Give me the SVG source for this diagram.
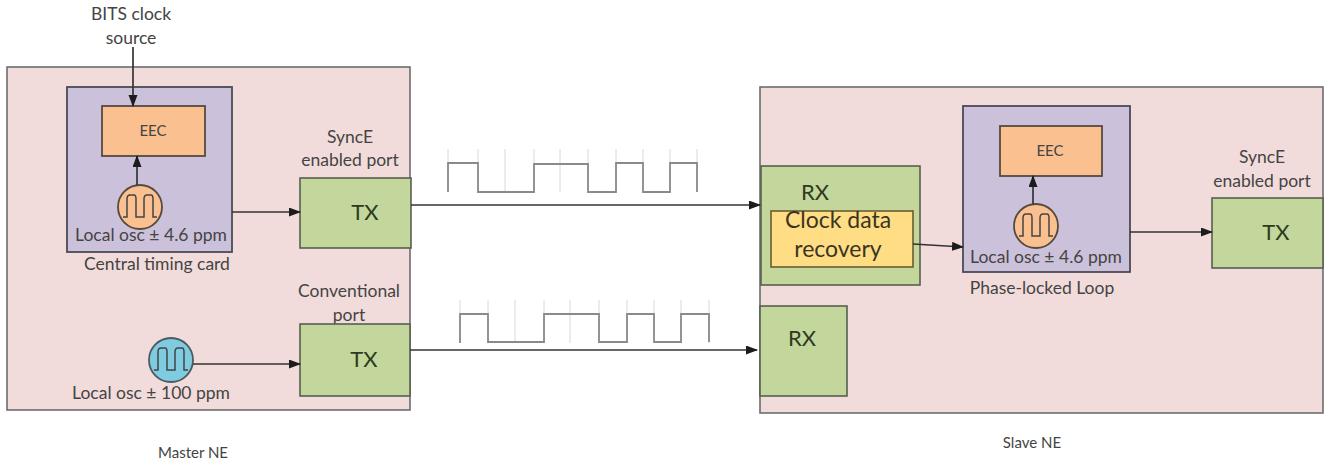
<svg xmlns="http://www.w3.org/2000/svg" width="1326" height="464" viewBox="0 0 1326 464">
<style>
text{font-family:Lato,"Open Sans","Liberation Sans",sans-serif;fill:#444;text-anchor:middle}
.s{font-size:17.5px}
.xs{font-size:15px}
.l{font-size:22px;fill:#2f3a22}
.cd{font-size:23px;fill:#3a3520}
.pink{fill:#f2dcdb;stroke:#6d6d6d;stroke-width:1.6}
.purple{fill:#ccc1da;stroke:#4a4a55;stroke-width:1.8}
.orange{fill:#fac090;stroke:#554a3f;stroke-width:1.8}
.green{fill:#c3d69b;stroke:#566050;stroke-width:1.6}
.yellow{fill:#ffdd85;stroke:#6b5c30;stroke-width:1.6}
.c{stroke:#333;stroke-width:1.7;fill:none;marker-end:url(#a)}
.wave{fill:none;stroke:#8a8a8a;stroke-width:1.8}
.tick{fill:none;stroke:#d8d8d8;stroke-width:1}
.osc{fill:none;stroke:#444;stroke-width:1.5}
</style>
<defs>
<marker id="a" markerWidth="12" markerHeight="10" refX="11" refY="4.5" orient="auto" markerUnits="userSpaceOnUse"><path d="M0 0L12 4.5L0 9z" fill="#1c1c1c"/></marker>
</defs>
<rect width="1326" height="464" fill="#fff"/>
<g id="master"><rect class="pink" x="7" y="67" width="403" height="343"/></g>
<g id="slave"><rect class="pink" x="760" y="87" width="563" height="326"/></g>
<g id="timing-card"><rect class="purple" x="67" y="87" width="165" height="165"/><text class="s" x="151" y="241">Local osc ± 4.6 ppm</text><text class="s" x="157" y="270">Central timing card</text></g>
<g id="eec-master"><rect class="orange" x="102" y="106" width="103" height="50"/><text class="xs" x="153" y="136">EEC</text></g>
<g id="osc-master"><circle class="orange" cx="140" cy="207" r="22"/><path class="osc" d="M123 217H127V199Q127 195 130 195H134Q136 195 136 199V217H144V199Q144 195 147 195H151Q153 195 153 199V217H157"/></g>
<g id="tx-sync"><text class="s" x="350" y="143">SyncE</text><text class="s" x="350" y="166">enabled port</text><rect class="green" x="300" y="178" width="111" height="70"/><text class="l" x="365" y="220">TX</text></g>
<g id="osc-conv"><circle cx="171" cy="360" r="22" fill="#7fcbe0" stroke="#4a5a60" stroke-width="1.8"/><path class="osc" d="M154 370H158V352Q158 348 161 348H165Q167 348 167 352V370H175V352Q175 348 178 348H182Q184 348 184 352V370H188"/><text class="s" x="151" y="399">Local osc ± 100 ppm</text></g>
<g id="tx-conv"><text class="s" x="349" y="297">Conventional</text><text class="s" x="349" y="321">port</text><rect class="green" x="300" y="324" width="110" height="72"/><text class="l" x="364" y="367">TX</text></g>
<g id="bits"><text class="s" x="131" y="20">BITS clock</text><text class="s" x="131" y="44">source</text></g>
<g id="rx-sync"><rect class="green" x="761" y="166" width="159" height="119"/><text class="l" x="815" y="200">RX</text></g>
<g id="cdr"><rect class="yellow" x="771" y="211" width="142" height="56"/><text class="cd" x="838" y="228">Clock data</text><text class="cd" x="838" y="257">recovery</text></g>
<g id="rx-conv"><rect class="green" x="760" y="306" width="87" height="90"/><text class="l" x="802" y="346">RX</text></g>
<g id="pll"><rect class="purple" x="963" y="106" width="167" height="166"/><text class="s" x="1046" y="263">Local osc ± 4.6 ppm</text><text class="s" x="1042" y="294">Phase-locked Loop</text></g>
<g id="eec-slave"><rect class="orange" x="1000" y="126" width="102" height="50"/><text class="xs" x="1050" y="156">EEC</text></g>
<g id="osc-slave"><circle class="orange" cx="1036" cy="226" r="22"/><path class="osc" d="M1019 236H1023V218Q1023 214 1026 214H1030Q1032 214 1032 218V236H1040V218Q1040 214 1043 214H1047Q1049 214 1049 218V236H1053"/></g>
<g id="tx-slave"><text class="s" x="1262" y="163">SyncE</text><text class="s" x="1262" y="187">enabled port</text><rect class="green" x="1212" y="198" width="111" height="70"/><text class="l" x="1276" y="240">TX</text></g>
<g id="labels"><text class="xs" x="193" y="458">Master NE</text><text class="xs" x="1032" y="448">Slave NE</text></g>
<g id="connectors">
<path class="c" d="M133 47V106"/>
<path class="c" d="M137 185V156"/>
<path class="c" d="M232 212H300"/>
<path class="c" d="M411 205H760"/>
<path class="c" d="M193 364H300"/>
<path class="c" d="M410 350H757"/>
<path class="c" d="M913 244L963 247"/>
<path class="c" d="M1033 204V176"/>
<path class="c" d="M1130 232H1212"/>
</g>
<g id="signals">
<path class="tick" d="M448 149V192M478 149V192M505 149V192M534 149V192M560 149V192M588 149V192M616 149V192M643 149V192M670 149V192M697 149V192"/>
<path class="wave" d="M448 192V163H478V192H534V164H588V192H616V163H643V192H670V163H697V192"/>
<path class="tick" d="M460 300V343M488 300V343M515 300V343M544 300V343M570 300V343M599 300V343M627 300V343M654 300V343M681 300V343M709 300V343"/>
<path class="wave" d="M460 343V314H488V342H544V314H599V342H627V314H654V342H681V314H709V342"/>
</g>
</svg>
